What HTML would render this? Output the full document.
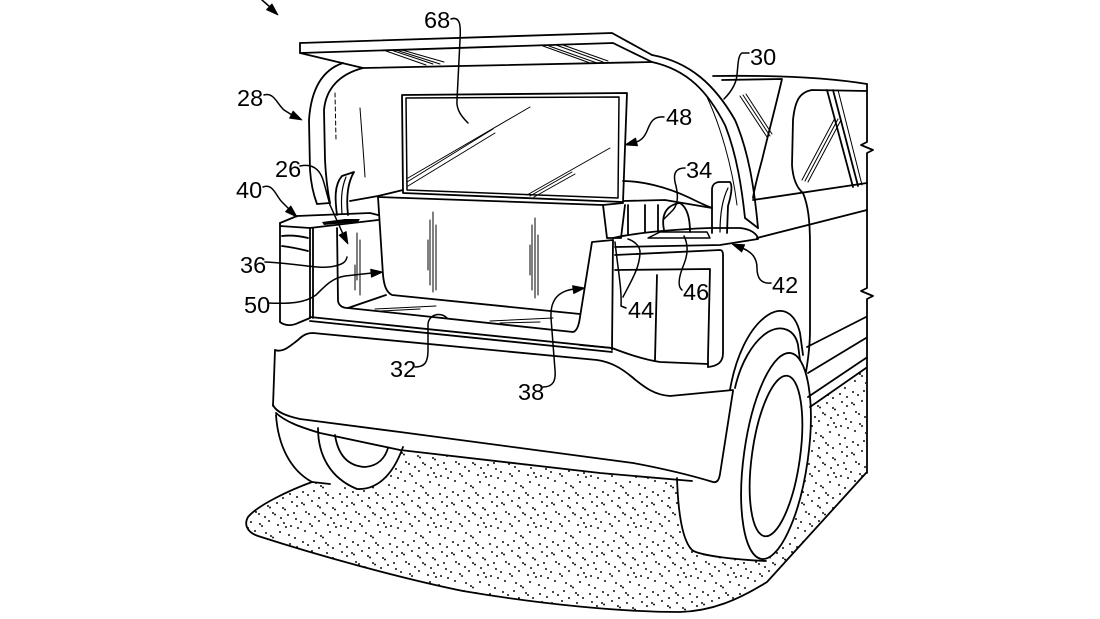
<!DOCTYPE html>
<html><head><meta charset="utf-8"><style>
html,body{margin:0;padding:0;background:#fff;}
svg{display:block;}
text{font-family:"Liberation Sans",Arial,sans-serif;font-size:23.5px;fill:#000;}
</style></head><body>
<svg width="1100" height="619" viewBox="0 0 1100 619" xmlns="http://www.w3.org/2000/svg">
<defs>
<pattern id="dots" width="50" height="50" patternUnits="userSpaceOnUse">
<g fill="#000">
<circle cx="2" cy="3" r="0.95"/><circle cx="4" cy="4.5" r="0.95"/><circle cx="12" cy="1" r="0.95"/><circle cx="18" cy="6" r="0.95"/><circle cx="20" cy="7.5" r="0.95"/><circle cx="27" cy="3" r="0.95"/><circle cx="33" cy="8" r="0.95"/><circle cx="35" cy="9.5" r="0.95"/><circle cx="42" cy="2" r="0.95"/><circle cx="47" cy="6" r="0.95"/>
<circle cx="6" cy="12" r="0.95"/><circle cx="9" cy="14" r="0.95"/><circle cx="15" cy="17" r="0.95"/><circle cx="23" cy="13" r="0.95"/><circle cx="25" cy="14.5" r="0.95"/><circle cx="31" cy="18" r="0.95"/><circle cx="38" cy="15" r="0.95"/><circle cx="44" cy="13" r="0.95"/><circle cx="46" cy="19" r="0.95"/>
<circle cx="1" cy="22" r="0.95"/><circle cx="10" cy="24" r="0.95"/><circle cx="12" cy="26" r="0.95"/><circle cx="19" cy="21" r="0.95"/><circle cx="28" cy="25" r="0.95"/><circle cx="34" cy="23" r="0.95"/><circle cx="36" cy="27" r="0.95"/><circle cx="41" cy="26" r="0.95"/><circle cx="48" cy="28" r="0.95"/>
<circle cx="5" cy="31" r="0.95"/><circle cx="16" cy="33" r="0.95"/><circle cx="21" cy="36" r="0.95"/><circle cx="23" cy="37.5" r="0.95"/><circle cx="30" cy="32" r="0.95"/><circle cx="39" cy="35" r="0.95"/><circle cx="45" cy="38" r="0.95"/>
<circle cx="3" cy="42" r="0.95"/><circle cx="8" cy="45" r="0.95"/><circle cx="14" cy="41" r="0.95"/><circle cx="26" cy="43" r="0.95"/><circle cx="28" cy="45" r="0.95"/><circle cx="33" cy="48" r="0.95"/><circle cx="40" cy="44" r="0.95"/><circle cx="47" cy="47" r="0.95"/><circle cx="19" cy="48" r="0.95"/>
</g>
</pattern>
</defs>
<rect width="1100" height="619" fill="#fff"/>

<!-- ground stipple -->
<path d="M312,482 C290,490 258,505 248,517 C243,526 249,533 258,536 C320,556 400,578 463,591 C540,604 620,612 680,612 C712,611 738,600 767,582 L866,473 L866,368 L810,407 L700,450 L400,440 L330,470 Z" fill="url(#dots)" stroke="none"/>

<!-- white fills (occluders) -->
<g fill="#fff" stroke="none">
<path d="M677,465 L678,505 C680,535 684,547 694,552 C710,557 740,560 766,561 L790,540 L808,460 L800,380 L735,392 Z"/>
<ellipse cx="776" cy="456" rx="32" ry="104" transform="rotate(8 776 456)"/>
<path d="M273,405 C276,445 290,470 312,482 L357,489 C380,490 395,475 405,440 L400,432 Z"/>
<path d="M273,340 L733,390 L722,478 L713,482 L690,481 L600,473 L400,450 L300,425 L276,415 Z"/>
</g>

<g fill="none" stroke="#000" stroke-width="1.8" stroke-linecap="round" stroke-linejoin="round">
<!-- ground outline -->
<path d="M312,482 C290,490 258,505 248,517 C243,526 249,533 258,536 C320,556 400,578 463,591 C540,604 620,612 680,612 C712,611 738,600 767,582 L866,473"/>

<!-- raised lid -->
<path d="M300,43 L612,33 L652,55"/>
<path d="M300,43 L300,53 L613,43 L652,62"/>
<path d="M300,53 L363,68 L652,62"/>

<!-- left pillar -->
<path d="M343,63 C322,70 311,90 309,120 L310,170 C311,185 314,196 317,204 L330,203"/>
<path d="M363,68 C340,74 326,88 324,110 L325,160 C326,180 328,193 330,203"/>

<!-- right pillar -->
<path d="M652,55 C690,62 715,85 735,120 C748,150 754,185 758,228"/>
<path d="M652,62 C688,70 708,92 725,125 C737,155 742,190 745,218 L758,228"/>

<!-- roof and side glass -->
<path d="M713,76 C780,75 830,78 867,84"/>
<path d="M722,80 L782,79 C776,105 768,135 762,160 C758,175 755,185 753,198"/>
<path d="M867,91 L812,90 C800,92 795,100 793,120 L792,165 C793,180 797,188 803,193 C808,205 810,220 810,245 L810,330 C810,345 808,360 806,372"/>
<path d="M827,90 L853,187"/>
<path d="M833,90 L858,186"/>
<path d="M753,200 L867,183"/>
<path d="M757,238 L867,210"/>
<path d="M867,84 L867,142 L861,145 L873,150 L867,153 L867,288 L861,291 L873,296 L867,299 L867,473"/>
<path d="M807,347 L866,317"/>
<path d="M808,373 L866,338"/>
<path d="M808,397 L866,358"/>
<path d="M810,407 L866,368"/>

<!-- right wheel -->
<ellipse cx="776" cy="456" rx="32" ry="104" transform="rotate(8 776 456)"/>
<ellipse cx="776" cy="456" rx="24" ry="81" transform="rotate(8 776 456)"/>
<path d="M677,478 C678,510 682,540 692,550 C700,556 740,560 766,561"/>
<path d="M730,390 C735,360 748,328 768,315 C782,306 795,312 800,333 L803,355"/>
<path d="M735,388 C740,365 752,342 768,332 C782,324 795,330 798,345 L800,360"/>

<!-- left wheel -->
<path d="M318,428 C318,455 330,478 357,489 C375,490 392,478 403,447"/>
<path d="M335,435 C338,455 348,466 365,467 C378,466 385,458 388,448"/>
<path d="M276,415 C278,445 290,470 312,482 L330,484"/>

<!-- bumper -->
<path d="M275,350 L273,406"/>
<path d="M275,350 C283,353 290,346 298,340 C303,335 307,333 313,333 L597,360 C610,362 620,367 632,377 C645,388 655,395 670,396 L733,390"/>
<path d="M273,405 C276,412 286,416 300,419 L400,432 L633,463 C660,468 690,475 713,482 C717,483 719,480 720,474 L733,391"/>
<path d="M276,413 C286,422 300,427 320,433 L400,450 L600,473 L692,481"/>

<!-- sill -->
<path d="M310,317 L612,348"/>
<path d="M310,321 L612,352"/>

<!-- left taillight / shelf 40 -->
<path d="M280,223 L297,216 L370,213 L378,215"/>
<path d="M280,226 L310,228 L378,220"/>
<path d="M280,223 L280,322 C285,326 292,326 298,323 L310,318"/>
<path d="M310,228 L310,318"/>
<path d="M313,228 L313,318"/>
<path d="M282,236 C290,235 300,236 308,238"/>
<path d="M282,246 C290,247 300,249 308,251"/>
<!-- cargo left wall & floor -->
<path d="M337,228 L338,300 C338,305 342,308 348,308 L386,295"/>
<path d="M348,308 L573,332 C577,331 579,325 580,317 L592,242 L613,240"/>
<path d="M613,240 L612,350"/>

<!-- box -->
<path d="M378,197 L603,205 L623,203"/>
<path d="M378,197 C380,230 382,260 383,275 C384,285 386,292 392,295 L580,314"/>
<path d="M350,201 L378,196 L403,190"/>

<!-- screen -->
<path d="M402,95 L627,93 L623,202 L403,193 Z"/>
<path d="M406,98 L619,97 L618,198 L407,190 Z" stroke-width="1.5"/>

<!-- tabs -->
<path d="M337,215 C335,200 334,185 342,176 L354,172 C348,182 346,197 348,215"/>
<path d="M346,177 C341,189 341,201 342,214" stroke-width="1.2"/>
<path d="M712,233 L712,190 C712,185 715,182 720,182 L730,182 C733,186 731,196 728,206 L727,233"/>
<path d="M728,188 C722,200 720,215 720,232" stroke-width="1.2"/>

<!-- stuff behind -->
<path d="M623,181 C640,181 665,186 690,198 C700,203 707,206 712,208"/>
<path d="M623,201 L665,200 L712,208"/>
<path d="M603,205 L607,238 L621,238 L625,205"/>
<path d="M628,205 L628,234"/><path d="M645,205 L645,232"/><path d="M658,205 L658,232"/>
<path d="M664,230 C661,215 666,205 680,203 C688,208 690,220 690,232"/>

<!-- tray 42 / right taillight -->
<path d="M613,238 C640,232 680,229 710,228 L740,228 C750,229 756,233 758,238"/>
<path d="M615,247 L720,245 L758,239"/>
<path d="M648,238 L660,232 L707,232 L710,238 Z" stroke-width="1.4"/>
<path d="M615,255 L720,250 C722,250 723,252 723,255 L723,353 C723,362 718,366 708,367"/>
<path d="M615,270 L710,269 L708,357 L708,367"/>
<path d="M657,275 L655,360"/>
<path d="M580,345 L612,348 C630,355 645,360 660,362 L708,364"/>
</g>

<!-- dark bits on shelf -->
<path d="M322,222 L345,219 L360,219 L358,222 L335,224 L324,225 Z" fill="#000"/>

<!-- thin hatch lines -->
<g fill="none" stroke="#000" stroke-width="1" stroke-linecap="round">
<path d="M386,51 L426,65"/><path d="M391,50 L433,64"/><path d="M396,50 L440,64"/><path d="M402,50 L444,62"/>
<path d="M543,46 L590,63"/><path d="M549,46 L597,63"/><path d="M556,45 L603,62"/><path d="M563,45 L608,61"/>
<path d="M408,178 L530,107"/><path d="M407,182 L493,129"/><path d="M408,186 L495,133"/>
<path d="M527,195 L610,148"/><path d="M530,196 L572,172"/><path d="M534,197 L575,174"/>
<path d="M430,220 L430,285"/><path d="M433,212 L433,292"/><path d="M436,225 L436,290"/><path d="M428,240 L428,270"/>
<path d="M532,225 L532,290"/><path d="M535,218 L535,298"/><path d="M538,235 L538,295"/><path d="M530,245 L530,275"/>
<path d="M357,233 L357,280"/><path d="M360,240 L360,295"/><path d="M355,265 L355,290"/>
<path d="M375,309 L436,306"/><path d="M380,311 L420,309"/>
<path d="M490,321 L553,318"/><path d="M500,323 L540,322"/>
<path d="M740,96 L767,137"/><path d="M743,95 L770,136"/><path d="M746,94 L772,134"/>
<path d="M835,118 L802,180"/><path d="M838,119 L805,181"/><path d="M841,120 L808,182"/>
<path d="M838,90 L862,185"/>
<path d="M335,93 L336,140" stroke-dasharray="4 3"/>
<path d="M360,108 C362,135 364,160 365,177"/>
<path d="M707,97 C720,125 732,165 737,205"/>
</g>

<!-- leaders -->
<g fill="none" stroke="#000" stroke-width="1.5" stroke-linecap="round" stroke-linejoin="round">
<path d="M262,0 L270,7"/>
<path d="M264,95 C274,92 277,104 284,110 L292,115"/>
<path d="M263,187 C273,183 276,196 282,202 L289,209"/>
<path d="M300,166 C314,163 321,171 324,183 L330,205 L343,234"/>
<path d="M265,262 C295,263 320,270 335,266 C343,264 346,262 347,257"/>
<path d="M268,303 C290,304 305,303 316,295 C325,286 332,278 345,276 L372,273"/>
<path d="M415,367 C425,367 428,362 428,350 L428,325 C428,315 440,311 447,318"/>
<path d="M543,387 C553,387 556,381 555,370 L551,318 C550,298 560,291 574,289"/>
<path d="M626,308 L621,306 C622,290 618,270 615,242"/>
<path d="M623,297 C630,283 640,268 640,252 C640,246 634,241 628,239"/>
<path d="M682,290 C677,286 679,276 684,264 C688,254 688,244 684,236"/>
<path d="M771,283 C761,284 757,278 757,268 C757,258 752,252 742,248"/>
<path d="M685,168 C677,168 673,172 675,182 C678,193 679,203 673,210 C669,214 666,217 664,219"/>
<path d="M664,117 C652,116 650,124 647,131 C644,138 640,141 636,142"/>
<path d="M749,53 L742,53 C738,55 738,65 737,75 C736,85 730,93 724,99"/>
<path d="M451,19 C460,16 461,25 460,40 C459,60 458,80 457,100 C456,110 462,117 468,123"/>
</g>

<!-- arrowheads -->
<g fill="#000" stroke="#000" stroke-width="0.8" stroke-linejoin="round">
<polygon points="278,15 266.5,9.7 272,3.9"/>
<polygon points="302,120 289.5,118.2 293.1,111"/>
<polygon points="297,217 285.5,211.7 290.9,205.9"/>
<polygon points="348,244 339,235.1 346.2,231.5"/>
<polygon points="383,272 371.4,277.2 370.6,269.2"/>
<polygon points="585,288 573.7,293.6 572.5,285.7"/>
<polygon points="732,244 744.7,244.7 741.7,252.1"/>
<polygon points="625,145 635.6,138 637.6,145.8"/>
</g>

<!-- labels -->
<text x="424" y="28">68</text>
<text x="237" y="106">28</text>
<text x="236" y="198">40</text>
<text x="275" y="177">26</text>
<text x="240" y="273">36</text>
<text x="244" y="313">50</text>
<text x="390" y="377">32</text>
<text x="518" y="400">38</text>
<text x="628" y="318">44</text>
<text x="683" y="300">46</text>
<text x="772" y="293">42</text>
<text x="686" y="178">34</text>
<text x="666" y="125">48</text>
<text x="750" y="65">30</text>
</svg>
</body></html>
